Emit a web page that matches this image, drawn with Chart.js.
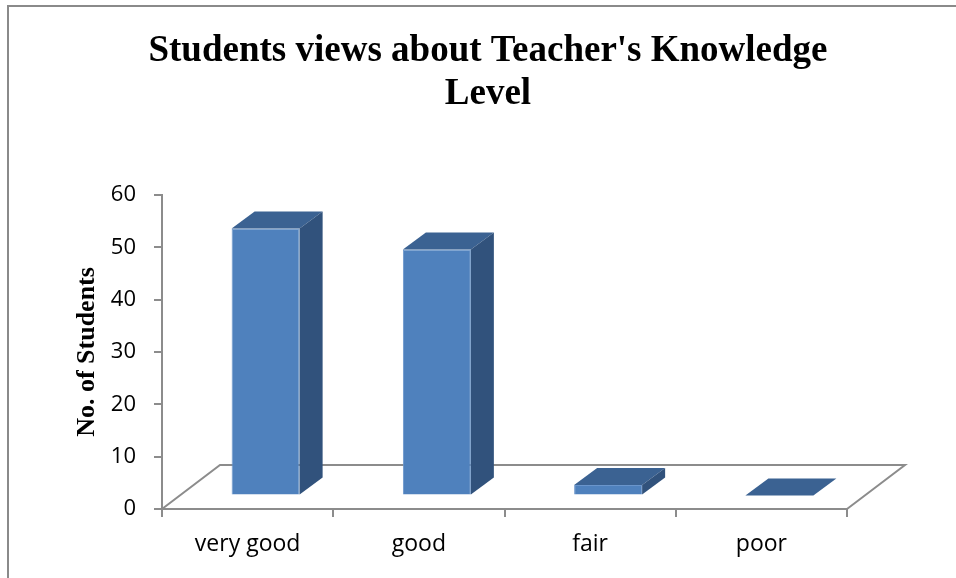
<!DOCTYPE html>
<html>
<head>
<meta charset="utf-8">
<script src="https://cdn.jsdelivr.net/npm/chart.js@4/dist/chart.umd.min.js"></script>
<style>
    html, body { margin: 0; padding: 0; background: #fff; }
    #wrap { position: relative; width: 956px; height: 578px; overflow: hidden; }
    #frame {
        position: absolute; left: 7px; top: 5px; width: 1000px; height: 700px;
        border-left: 2px solid #8a8a8a; border-top: 2px solid #8a8a8a;
    }
    #chart { position: absolute; left: 0; top: 0; }
</style>
</head>
<body>
<div id="wrap">
    <div id="frame"></div>
    <canvas id="chart" width="956" height="578"></canvas>
</div>
<script>
    "use strict";

    var categories = ["very good", "good", "fair", "poor"];
    var students = [51, 47, 2, 0];
    var yTicks = [0, 10, 20, 30, 40, 50, 60];

    var axisGrey = "#8c8c8c";

    // fake 3d: floor depth, bar position inside floor, bar depth
    var floorDX = 58, floorDY = -44;
    var shiftX = 18, shiftY = -13.6;
    var boxDX = 23, boxDY = -17;

    var fake3d = {
        id: "fake3d",
        beforeDatasetsDraw: function (chart) {
            var ctx = chart.ctx;
            var x = chart.scales.x, y = chart.scales.y;
            var b = y.getPixelForValue(0);
            ctx.save();
            ctx.strokeStyle = axisGrey;
            ctx.lineWidth = 2;
            ctx.beginPath();
            ctx.moveTo(x.left, b);
            ctx.lineTo(x.left + floorDX, b + floorDY);
            ctx.lineTo(x.right + floorDX, b + floorDY);
            ctx.lineTo(x.right, b);
            ctx.stroke();
            ctx.restore();
            ctx.save();
            ctx.translate(shiftX, shiftY);
        },
        afterDatasetsDraw: function (chart) {
            var ctx = chart.ctx;
            var meta = chart.getDatasetMeta(0);
            meta.data.forEach(function (bar) {
                var p = bar.getProps(["x", "y", "base", "width"], true);
                var l = p.x - p.width / 2, r = p.x + p.width / 2;
                // top face
                ctx.fillStyle = "#3b6292";
                ctx.beginPath();
                ctx.moveTo(l, p.y);
                ctx.lineTo(r, p.y);
                ctx.lineTo(r + boxDX, p.y + boxDY);
                ctx.lineTo(l + boxDX, p.y + boxDY);
                ctx.closePath();
                ctx.fill();
                // side face
                if (p.base - p.y > 0.5) {
                    ctx.fillStyle = "#31527c";
                    ctx.beginPath();
                    ctx.moveTo(r, p.y);
                    ctx.lineTo(r + boxDX, p.y + boxDY);
                    ctx.lineTo(r + boxDX, p.base + boxDY);
                    ctx.lineTo(r, p.base);
                    ctx.closePath();
                    ctx.fill();
                }
            });
            ctx.restore();
        }
    };

    new Chart(document.getElementById("chart").getContext("2d"), {
        type: "bar",
        data: {
            labels: categories,
            datasets: [{
                label: "No. of Students",
                data: students,
                backgroundColor: "#4f81bd",
                borderColor: "#6a95cb",
                borderWidth: 1,
                barPercentage: 0.397,
                categoryPercentage: 1,
                clip: false
            }]
        },
        options: {
            responsive: false,
            animation: false,
            layout: { padding: { left: 20, right: 0, top: 0, bottom: 0 } },
            plugins: {
                legend: { display: false },
                tooltip: { enabled: false },
                title: {
                    display: true,
                    text: ["Students views about Teacher's Knowledge", "Level"],
                    color: "#000",
                    font: { family: "Liberation Serif", size: 37, weight: "bold", lineHeight: 1.162 },
                    padding: { top: 30, bottom: 79 }
                }
            },
            scales: {
                x: {
                    offset: true,
                    grid: { offset: true, drawOnChartArea: false, tickLength: 8, color: axisGrey, lineWidth: 2 },
                    border: { color: axisGrey, width: 2 },
                    ticks: { color: "#000", padding: 14, font: { family: "Open Sans", size: 23 } },
                    afterFit: function (s) { s.height = 69; }
                },
                y: {
                    min: yTicks[0],
                    max: yTicks[yTicks.length - 1],
                    afterBuildTicks: function (s) {
                        s.ticks = yTicks.map(function (v) { return { value: v }; });
                    },
                    grid: { drawOnChartArea: false, tickLength: 8, color: axisGrey, lineWidth: 2 },
                    border: { color: axisGrey, width: 2 },
                    ticks: { color: "#000", padding: 18, font: { family: "Open Sans", size: 22 } },
                    title: {
                        display: true,
                        text: "No. of Students",
                        color: "#000",
                        padding: { top: 52, bottom: 0 },
                        font: { family: "Liberation Serif", size: 26, weight: "bold" }
                    },
                    afterFit: function (s) { s.width = 142; }
                },
                // empty right scale, only holds the space right of the floor
                spacer: {
                    type: "linear",
                    position: "right",
                    grid: { display: false },
                    border: { display: false },
                    ticks: { display: false },
                    afterFit: function (s) { s.width = 109; }
                }
            }
        },
        plugins: [fake3d]
    });
</script>
</body>
</html>
